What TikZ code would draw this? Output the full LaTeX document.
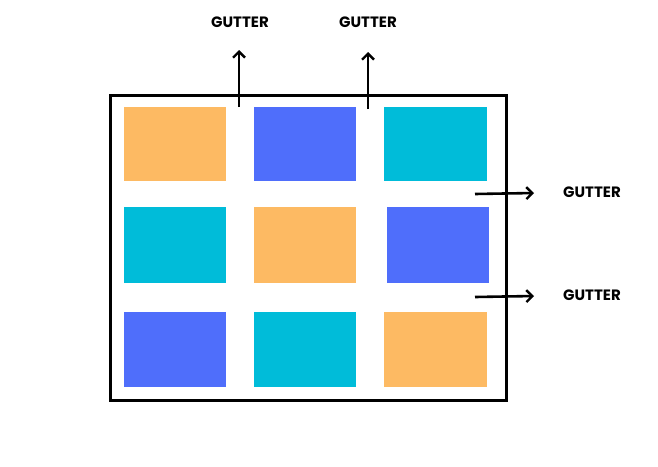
\documentclass[tikz,border=0pt]{standalone}
\usepackage{fontspec}
\setmainfont{Poppins}
\usetikzlibrary{arrows.meta}
\definecolor{cor}{HTML}{FDBA63}
\definecolor{cbl}{HTML}{4F6EFB}
\definecolor{ccy}{HTML}{00BCD9}
\tikzset{cell/.style={inner sep=0pt,draw=none},
 gar/.style={line width=2.6pt,-{Straight Barb[length=6pt,width=12pt,line width=2.4pt]}},
 glab/.style={font=\bfseries\fontsize{15}{15}\selectfont}}
\begin{document}
\begin{tikzpicture}[x=1pt,y=-1pt]
\useasboundingbox (0,0) rectangle (658,466);
\fill[white] (0,0) rectangle (658,466);
\node[draw,line width=3pt,minimum width=396pt,minimum height=305pt,inner sep=0pt] (frame) at (308,247.5) {};
\fill[cor] (124,107) rectangle (226,181);
\fill[cbl] (254,107) rectangle (356,181);
\fill[ccy] (384,107) rectangle (487,181);
\fill[ccy] (124,207) rectangle (226,283);
\fill[cor] (254,207) rectangle (356,283);
\fill[cbl] (387,207) rectangle (489,283);
\fill[cbl] (124,312) rectangle (226,387);
\fill[ccy] (254,312) rectangle (356,387);
\fill[cor] (384,312) rectangle (487,387);
\node[glab] (l1) at (240,22) {GUTTER};
\node[glab] (l2) at (368,22) {GUTTER};
\node[glab] (l3) at (592,192) {GUTTER};
\node[glab] (l4) at (592,295) {GUTTER};
\coordinate (s1) at (239,107); \coordinate (e1) at (239,50);
\coordinate (s2) at (368,109); \coordinate (e2) at (368,52);
\coordinate (s3) at (475,194); \coordinate (e3) at (534,193);
\coordinate (s4) at (475,297); \coordinate (e4) at (534,296);
\draw[gar] (s1) -- (e1);
\draw[gar] (s2) -- (e2);
\draw[gar] (s3) -- (e3);
\draw[gar] (s4) -- (e4);
\end{tikzpicture}
\end{document}
